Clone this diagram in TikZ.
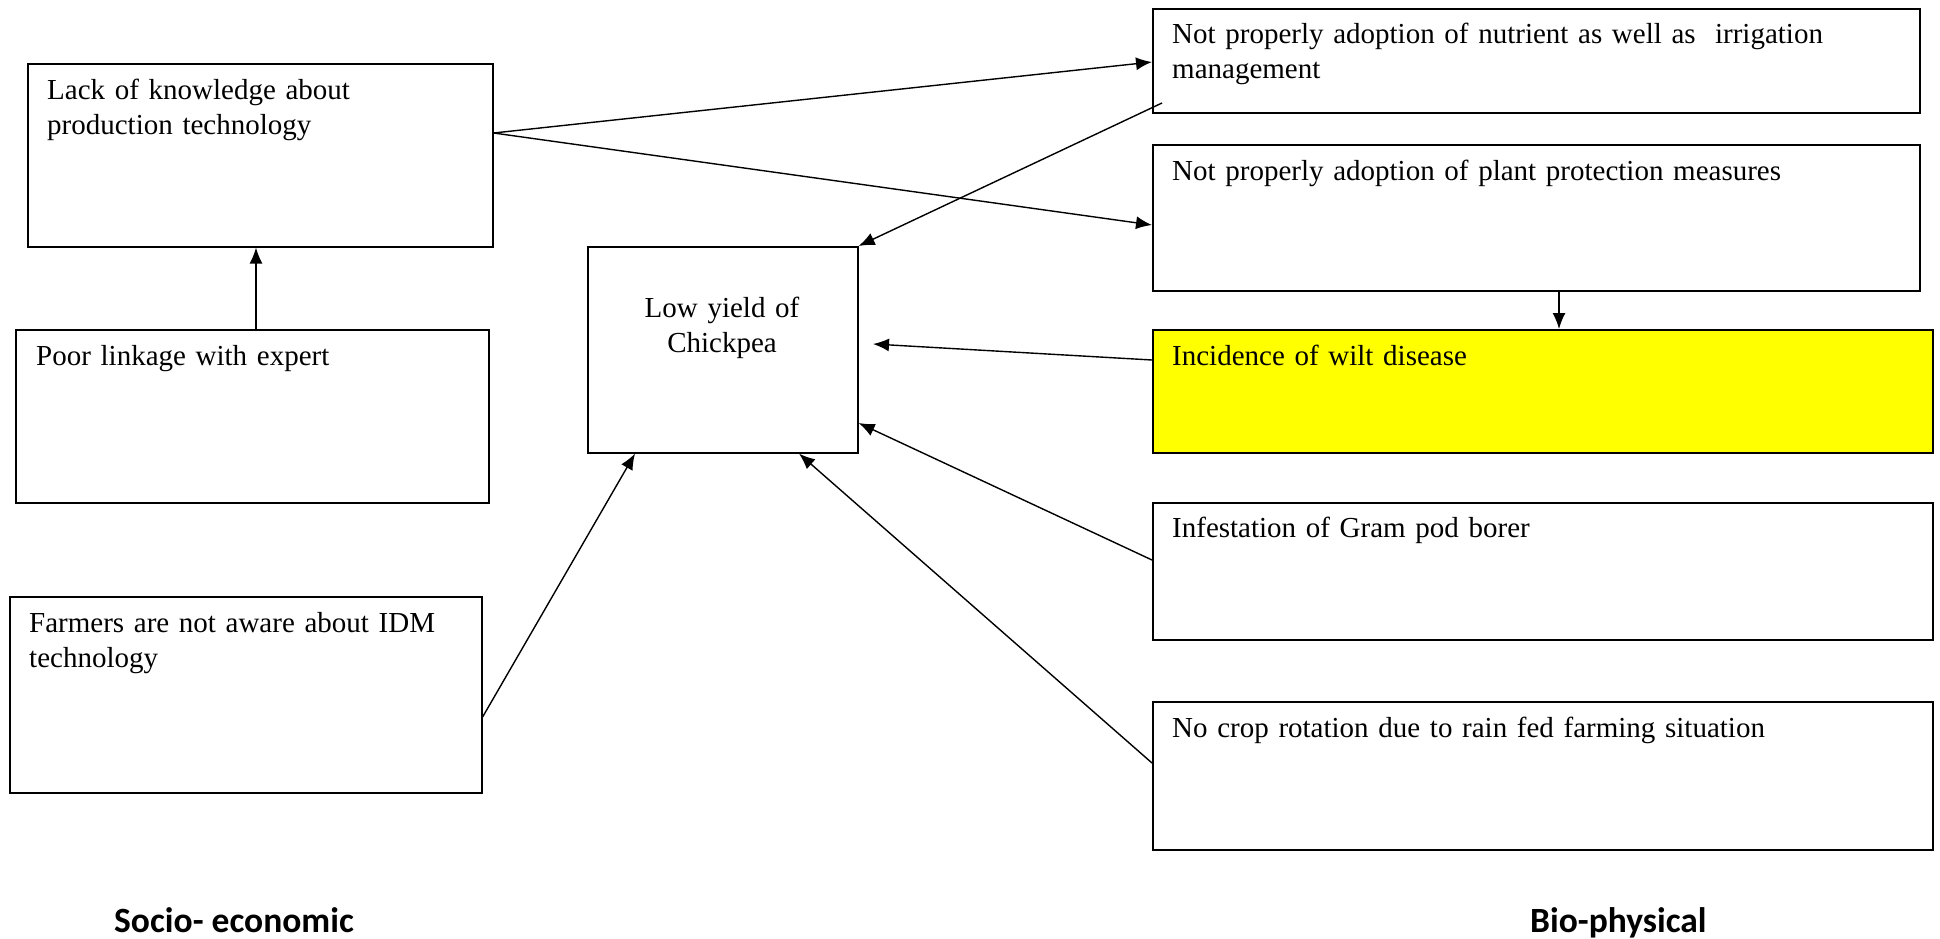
\documentclass[tikz,border=0pt]{standalone}
\usepackage{fontspec}
\setmainfont{Liberation Serif}
\newfontfamily\lblfont{Carlito}
\usetikzlibrary{arrows.meta,calc}
\definecolor{wiltyellow}{RGB}{255,255,0}
\begin{document}
\begin{tikzpicture}[x=1pt,y=-1pt,
  box/.style={draw, line width=1.6pt, inner sep=0pt, anchor=north west},
  txt/.style={anchor=base west, inner sep=0pt, text width=#1, align=left, font=\fontsize{29}{35}\selectfont},
  conn/.style={line width=1.4pt, -{Latex[length=16pt,width=13pt]}},
  lbl/.style={font=\lblfont\bfseries\fontsize{35.5}{42}\selectfont, inner sep=0pt, anchor=base west}]
\fill[white] (0,0) rectangle (1940,939);
\useasboundingbox (0,0) rectangle (1940,939);

% boxes
\node[box, minimum width=465pt, minimum height=183pt] (lack) at (27,63) {};
\node[box, minimum width=473pt, minimum height=173pt] (poor) at (15,329) {};
\node[box, minimum width=472pt, minimum height=196pt] (farm) at (9,596) {};
\node[box, minimum width=270pt, minimum height=206pt] (low) at (587,246) {};
\node[box, minimum width=767pt, minimum height=104pt] (np1) at (1152,8) {};
\node[box, minimum width=767pt, minimum height=146pt] (np2) at (1152,144) {};
\node[box, fill=wiltyellow, minimum width=780pt, minimum height=123pt] (wilt) at (1152,329) {};
\node[box, minimum width=780pt, minimum height=137pt] (inf) at (1152,502) {};
\node[box, minimum width=780pt, minimum height=148pt] (nc) at (1152,701) {};

% texts
\node[txt=440pt] (lackT) at (47,100) {Lack of knowledge about\\production technology};
\node[txt=440pt] (poorT) at (36,365) {Poor linkage with expert};
\node[txt=440pt] (farmT) at (29,632) {Farmers are not aware about IDM\\technology};
\node[txt=250pt, align=center, anchor=base] (lowT) at (722,317) {Low yield of\\Chickpea};
\node[txt=740pt] (np1T) at (1172,44) {Not properly adoption of nutrient as well as \ irrigation\\management};
\node[txt=740pt] (np2T) at (1172,180) {Not properly adoption of plant protection measures};
\node[txt=740pt] (wiltT) at (1172,365) {Incidence of wilt disease};
\node[txt=740pt] (infT) at (1172,537) {Infestation of Gram pod borer};
\node[txt=740pt] (ncT) at (1172,737) {No crop rotation due to rain fed farming situation};

\node[lbl] (socio) at (114,932) {Socio- economic};
\node[lbl] (bio) at (1530,932) {Bio-physical};

% connectors
\coordinate (wiltend) at (873,344);
\draw[conn] ($(lack.north east)+(0,70)$) -- ($(np1.north west)+(0,54)$);
\draw[conn] ($(lack.north east)+(0,70)$) -- ($(np2.north west)+(0,81)$);
\draw[conn] ($(np1.north west)+(10,95)$) -- (low.north east);
\draw[conn] ($(wilt.north west)+(0,31)$) -- (wiltend);
\draw[conn] ($(inf.north west)+(0,58)$) -- ($(low.north east)+(0,177)$);
\draw[conn] ($(nc.north west)+(0,62)$) -- ($(low.south west)+(212,0)$);
\draw[conn] ($(farm.north east)+(0,121)$) -- ($(low.south west)+(48,0)$);
\draw[conn] ($(poor.north west)+(241,0)$) -- ($(lack.south west)+(229,0)$);
\draw[conn] ($(np2.south west)+(407,0)$) -- ($(wilt.north west)+(407,0)$);
\end{tikzpicture}
\end{document}
